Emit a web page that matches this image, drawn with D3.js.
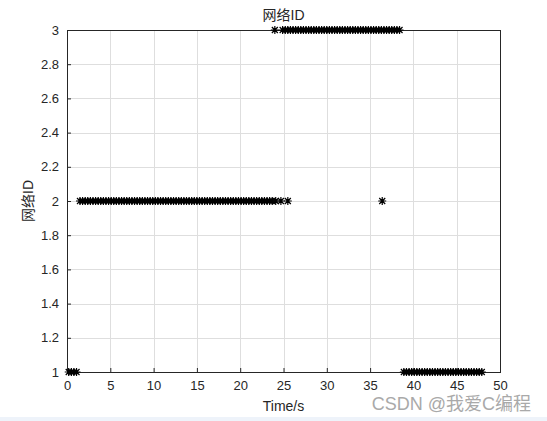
<!DOCTYPE html>
<html>
<head>
<meta charset="utf-8">
<script src="https://cdn.jsdelivr.net/npm/d3@7"></script>
<style>
  body { margin: 0; background: #fff; }
  svg { display: block; }
  .tick text { font-family: "Liberation Sans", Arial, sans-serif; font-size: 13px; fill: #262626; }
  .lbl { font-family: "Liberation Sans", "Noto Sans CJK SC", sans-serif; font-size: 14px; fill: #262626; }
</style>
</head>
<body>
<div id="chart"></div>
<script>
// sample times (s), grouped by network ID
var timesId1 = [0.2, 0.5, 0.8, 1.1,
  38.9, 39.2, 39.5, 39.8, 40.1, 40.4, 40.7, 41.0, 41.3, 41.6, 41.9, 42.2, 42.5, 42.8, 43.1, 43.4,
  43.7, 44.0, 44.3, 44.6, 44.9, 45.2, 45.5, 45.8, 46.1, 46.4, 46.7, 47.0, 47.3, 47.6, 47.9];
var timesId2 = [1.5, 1.8, 2.1, 2.4, 2.7, 3.0, 3.3, 3.6, 3.9, 4.2, 4.5, 4.8, 5.1, 5.4, 5.7, 6.0,
  6.3, 6.6, 6.9, 7.2, 7.5, 7.8, 8.1, 8.4, 8.7, 9.0, 9.3, 9.6, 9.9, 10.2, 10.5, 10.8, 11.1, 11.4,
  11.7, 12.0, 12.3, 12.6, 12.9, 13.2, 13.5, 13.8, 14.1, 14.4, 14.7, 15.0, 15.3, 15.6, 15.9, 16.2,
  16.5, 16.8, 17.1, 17.4, 17.7, 18.0, 18.3, 18.6, 18.9, 19.2, 19.5, 19.8, 20.1, 20.4, 20.7, 21.0,
  21.3, 21.6, 21.9, 22.2, 22.5, 22.8, 23.1, 23.4, 23.7, 24.1, 24.7, 25.5,
  36.4];
var timesId3 = [24.0, 24.9, 25.2, 25.5, 25.8, 26.1, 26.4, 26.7, 27.0, 27.3, 27.6, 27.9, 28.2,
  28.5, 28.8, 29.1, 29.4, 29.7, 30.0, 30.3, 30.6, 30.9, 31.2, 31.5, 31.8, 32.1, 32.4, 32.7, 33.0,
  33.3, 33.6, 33.9, 34.2, 34.5, 34.8, 35.1, 35.4, 35.7, 36.0, 36.3, 36.6, 36.9, 37.2, 37.5, 37.8,
  38.1, 38.4];
var xTicks = [0, 5, 10, 15, 20, 25, 30, 35, 40, 45, 50];
var yTicks = [1, 1.2, 1.4, 1.6, 1.8, 2, 2.2, 2.4, 2.6, 2.8, 3];

var svgWidth = 547, svgHeight = 421;
var margin = { top: 30, bottom: 49, left: 67, right: 47 };
var chartWidth = svgWidth - margin.left - margin.right;
var chartHeight = svgHeight - margin.top - margin.bottom;

var points = [];
timesId1.forEach(function(t){ points.push({t: t, id: 1}); });
timesId2.forEach(function(t){ points.push({t: t, id: 2}); });
timesId3.forEach(function(t){ points.push({t: t, id: 3}); });

var svg = d3.select("#chart").append("svg")
    .attr("width", svgWidth)
    .attr("height", svgHeight);

// light strip at the bottom of the screenshot
svg.append("rect")
    .attr("x", 0).attr("y", 417)
    .attr("width", svgWidth).attr("height", 4)
    .attr("fill", "#eef3fa");

var chartGroup = svg.append("g")
    .attr("transform", `translate(${margin.left}, ${margin.top})`);

var x = d3.scaleLinear().domain([0, 50]).range([0, chartWidth]);
var y = d3.scaleLinear().domain([1, 3]).range([chartHeight, 0]);

// grid
chartGroup.append("g").selectAll("line")
    .data(xTicks.slice(1, -1)).enter().append("line")
    .attr("x1", d => Math.round(x(d)) + 0.5).attr("x2", d => Math.round(x(d)) + 0.5)
    .attr("y1", 0).attr("y2", chartHeight)
    .attr("stroke", "#dedede");
chartGroup.append("g").selectAll("line")
    .data(yTicks.slice(1, -1)).enter().append("line")
    .attr("y1", d => Math.round(y(d)) + 0.5).attr("y2", d => Math.round(y(d)) + 0.5)
    .attr("x1", 0).attr("x2", chartWidth)
    .attr("stroke", "#dedede");

// axes (ticks pointing inward like MATLAB)
var xAxis = d3.axisBottom(x).tickValues(xTicks).tickSize(-4).tickPadding(9).tickFormat(d3.format("d"));
var yAxis = d3.axisLeft(y).tickValues(yTicks).tickSize(-4).tickPadding(8).tickFormat(d => d3.format("~g")(d));

var gx = chartGroup.append("g")
    .attr("transform", `translate(0, ${chartHeight})`)
    .call(xAxis);
var gy = chartGroup.append("g").call(yAxis);
[gx, gy].forEach(function(g){
    g.selectAll("path, line").attr("stroke", "#262626");
    g.select(".domain").remove();
});

// box
chartGroup.append("rect")
    .attr("x", 0.5).attr("y", 0.5)
    .attr("width", chartWidth).attr("height", chartHeight)
    .attr("fill", "none").attr("stroke", "#262626");

// star markers
var star = "M-4,0H4M0,-4V4M-3,-3L3,3M-3,3L3,-3";
chartGroup.append("g").selectAll("path")
    .data(points).enter().append("path")
    .attr("transform", d => `translate(${x(d.t)}, ${y(d.id)})`)
    .attr("d", star)
    .attr("fill", "none")
    .attr("stroke", "#000")
    .attr("stroke-width", 1.2);

// labels
svg.append("text").attr("class", "lbl")
    .attr("x", margin.left + chartWidth / 2).attr("y", 20)
    .attr("text-anchor", "middle")
    .text("网络ID");

svg.append("text").attr("class", "lbl")
    .attr("x", margin.left + chartWidth / 2).attr("y", 411)
    .attr("text-anchor", "middle")
    .text("Time/s");

svg.append("text").attr("class", "lbl")
    .attr("transform", `translate(33, ${margin.top + chartHeight / 2}) rotate(-90)`)
    .attr("text-anchor", "middle")
    .text("网络ID");

// watermark
svg.append("text")
    .attr("x", 531).attr("y", 410)
    .attr("text-anchor", "end")
    .attr("font-family", "'Liberation Sans', 'Noto Sans CJK SC', sans-serif")
    .attr("font-size", 18)
    .attr("fill", "#a9a9a9")
    .text("CSDN @我爱C编程");
</script>
</body>
</html>
